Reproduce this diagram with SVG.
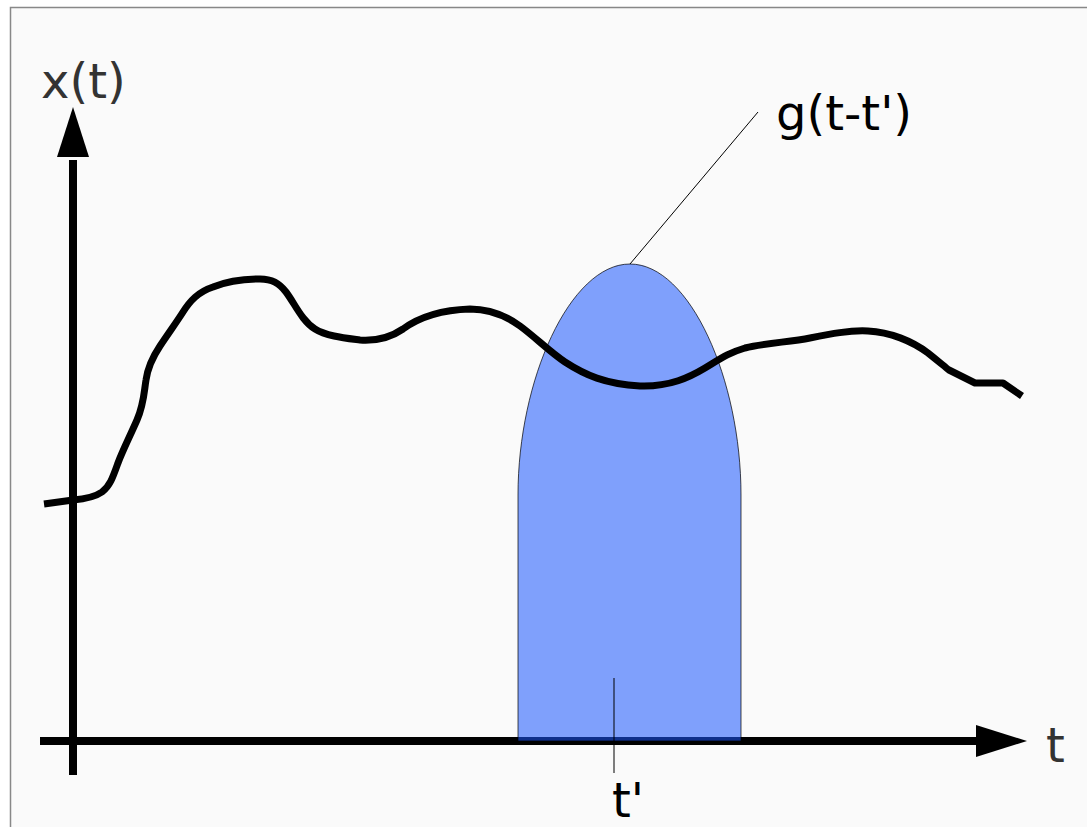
<svg xmlns="http://www.w3.org/2000/svg" width="1087" height="827" viewBox="0 0 1087 827">
<style>
.lbl{font-family:"DejaVu Sans",sans-serif;font-size:48px}
.axis{stroke:#000;stroke-width:8;fill:none}
.thin{stroke:#000;stroke-width:1;fill:none}
</style>
<rect x="0" y="0" width="1087" height="827" fill="#ffffff"/>
<rect x="10.5" y="7.5" width="1100" height="840" fill="#fafafa" stroke="#888" stroke-width="1.5"/>
<g id="axes">
<line class="axis" x1="73" y1="775" x2="73" y2="160"/>
<path d="M73,107 L89,157 L57,157 Z" fill="#000"/>
<line class="axis" x1="40" y1="741" x2="978" y2="741"/>
<path d="M1027,741 L976,725 L976,757 Z" fill="#000"/>
</g>
<g id="kernel">
<path d="M518,741 L518,495 C518,380 570,264 630,264 C690,264 741,380 741,495 L741,741 Z" fill="rgb(25,86,253)" fill-opacity="0.55" stroke="#000" stroke-opacity="0.7" stroke-width="1"/>
</g>
<g id="signal">
<path d="M44,504 L73,500 C85,499 95,497 102,492 C110,486 113,477 118,463 C122,452 130,436 137,420 C144,404 144,392 146,380 C148,366 154,355 160,346 C168,334 178,320 183,312 C190,301 198,292 213,287 C228,281 247,279 260,279 C272,279 279,283 286,292 C295,304 302,321 315,329 C326,336 345,338 360,340 C375,341 390,338 403,329 C418,318 440,310 470,309 C490,309 505,315 520,326 C535,337 550,352 565,362 C585,375 605,384 640,386 C670,387 690,377 705,368 C720,359 728,353 745,348 C765,343 790,342 810,338 C830,334 850,330 868,331 C890,332 912,341 928,353 C938,361 944,366 949,370 L975,383 L1003,383 L1022,396" fill="none" stroke="#000" stroke-width="7" stroke-linejoin="round"/>
</g>
<g id="connectors">
<line class="thin" x1="630" y1="264" x2="758" y2="112"/>
<line class="thin" x1="614" y1="678" x2="614" y2="773"/>
</g>
<g id="labels">
<text class="lbl" x="41" y="98" fill="#333">x(t)</text>
<text class="lbl" x="776" y="130" fill="#000">g(t-t')</text>
<text class="lbl" x="1046" y="762" fill="#333">t</text>
<text class="lbl" x="612" y="817" fill="#000">t'</text>
</g>
</svg>
